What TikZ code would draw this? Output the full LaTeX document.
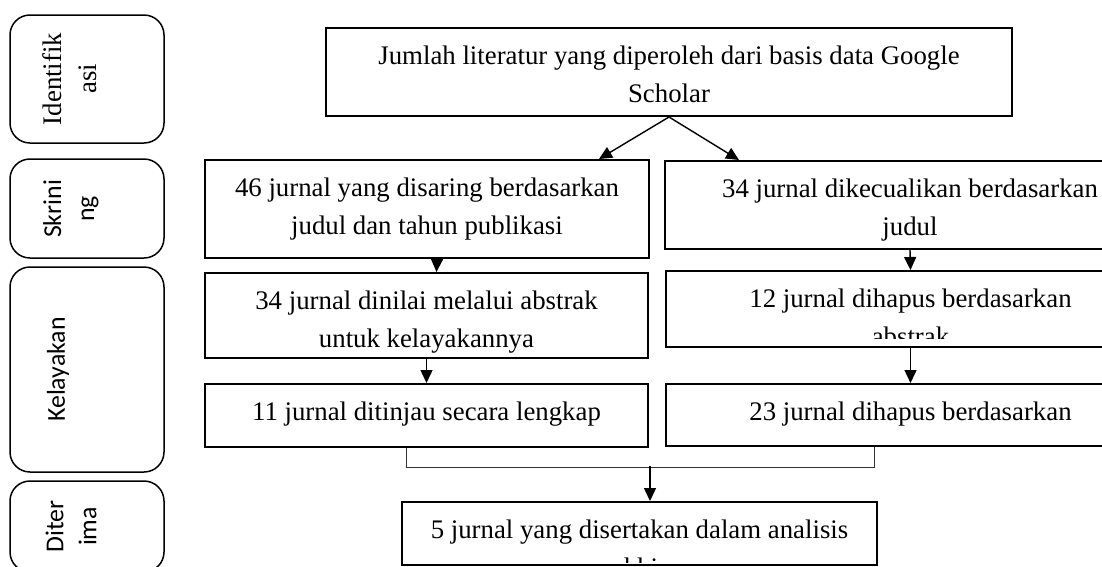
\documentclass[tikz,border=0pt]{standalone}
\usepackage{fontspec}
\setmainfont{Liberation Serif}
\newfontfamily\sansfont{Carlito}
\usetikzlibrary{arrows.meta, positioning, calc}

\tikzset{
  kotak/.style={draw, line width=2pt, inner sep=0pt},
  tahap/.style={draw, line width=1.5pt, rounded corners=20pt, inner sep=0pt, minimum width=154pt},
  teks/.style={anchor=north, align=center, inner sep=0pt, font=\fontsize{26.8}{37.5}\selectfont},
  teksrot/.style={rotate=90, align=center, inner sep=0pt, font=\sansfont\fontsize{25.8}{33}\selectfont},
  panah/.style={-{Triangle[length=13pt,width=12pt]}, line width=1.4pt},
  garis/.style={line width=1pt, black!80}
}

\begin{document}
\begin{tikzpicture}[x=1pt, y=-1pt]
    \clip (0,0) rectangle (1102,566);

    % kotak tahap di sebelah kiri
    \node[tahap, minimum height=128pt] (identifikasi) at (87,79) {};
    \node[tahap, minimum height=99pt] (skrining) at (87,208.5) {};
    \node[tahap, minimum height=205pt] (kelayakan) at (87,369.5) {};
    \node[tahap, minimum height=91pt] (diterima) at (87,526.5) {};

    \node[teksrot, font=\fontsize{26.8}{35}\selectfont] at (70,79) {Identifik\\asi};
    \node[teksrot] at (71,209) {Skrini\\ng};
    \node[teksrot] at (58,369.5) {Kelayakan};
    \node[teksrot] at (71,526.5) {Diter\\ima};

    % kotak alur
    \node[kotak, minimum width=686pt, minimum height=88pt] (sumber) at (669,72) {};
    \node[kotak, minimum width=444pt, minimum height=98pt] (saring) at (427,209) {};
    \node[kotak, minimum width=490pt, minimum height=88pt] (kecuali) at (910,205) {};
    \node[kotak, minimum width=443pt, minimum height=85pt] (nilai) at (426.5,315.5) {};
    \node[kotak, minimum width=489pt, minimum height=76pt] (abstrak) at (910.5,309) {};
    \node[kotak, minimum width=443pt, minimum height=63pt] (tinjau) at (426.5,415.5) {};
    \node[kotak, minimum width=489pt, minimum height=62pt] (lengkap) at (910.5,415) {};
    \node[kotak, minimum width=475pt, minimum height=63pt] (akhir) at (639.5,533.5) {};

    % teks di dalam kotak
    \node[teks] at ([yshift=-19pt]sumber.north) {Jumlah literatur yang diperoleh dari basis data Google\\Scholar};
    \node[teks] at ([yshift=-19pt]saring.north) {46 jurnal yang disaring berdasarkan\\judul dan tahun publikasi};
    \node[teks] at ([yshift=-19pt]kecuali.north) {34 jurnal dikecualikan berdasarkan\\judul};
    \node[teks] at ([yshift=-19pt]nilai.north) {34 jurnal dinilai melalui abstrak\\untuk kelayakannya};
    \begin{scope}
        \clip (abstrak.north west) rectangle ([yshift=10pt]abstrak.south east);
        \node[teks] at ([yshift=-19pt]abstrak.north) {12 jurnal dihapus berdasarkan\\abstrak};
    \end{scope}
    \node[teks] at ([yshift=-19pt]tinjau.north) {11 jurnal ditinjau secara lengkap};
    \node[teks] at ([yshift=-19pt]lengkap.north) {23 jurnal dihapus berdasarkan};
    \begin{scope}
        \clip (akhir.north west) rectangle ([yshift=4pt]akhir.south east);
        \node[teks] at ([yshift=-19pt]akhir.north) {5 jurnal yang disertakan dalam analisis\\akhir};
    \end{scope}

    % panah penghubung
    \draw[panah] (sumber.south) -- ([xshift=-51pt]saring.north east);
    \draw[panah] (sumber.south) -- ([xshift=75pt]kecuali.north west);
    \draw[panah] ([xshift=10pt]saring.south) -- ([xshift=10pt]nilai.north);
    \draw[panah] (nilai.south) -- (tinjau.north);
    \draw[panah] (kecuali.south) -- (abstrak.north);
    \draw[panah] (abstrak.south) -- (lengkap.north);

    % garis gabungan ke kotak akhir
    \coordinate (gabung) at (650,466);
    \draw[garis] ([xshift=-20pt]tinjau.south) -- ++(0,19) -| ([xshift=-36pt]lengkap.south);
    \draw[panah] (gabung) -- (gabung |- akhir.north);

\end{tikzpicture}
\end{document}
